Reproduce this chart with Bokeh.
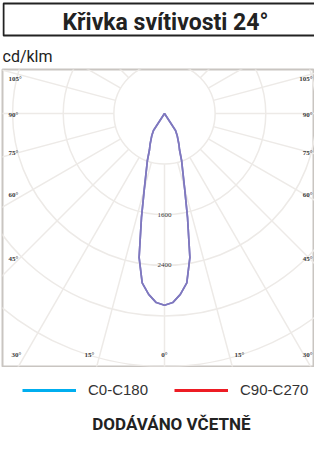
import numpy as np
from bokeh.plotting import figure
from bokeh.layouts import column
from bokeh.models import Range1d, Legend, LegendItem
from bokeh.core.properties import value
from bokeh.embed import file_html
from bokeh.resources import INLINE

# ---------------- data ----------------
title_text = "Křivka svítivosti 24°"
unit_text = "cd/klm"
footer_text = "DODÁVÁNO VČETNĚ"

series_names = ["C0-C180", "C90-C270"]
series_colors = ["#00aeef", "#ed1c24"]

# gamma angle (deg from nadir) and luminous intensity (cd/klm)
angles_deg = [0, 2.5, 5, 7.5, 10, 12.5, 15, 17.5, 20, 22.5, 25, 30, 33, 36]
c0_c180 = [3030, 2990, 2870, 2700, 2310, 1680, 1230, 960, 790, 620, 540, 400, 320, 0]
c90_c270 = [3030, 2990, 2870, 2700, 2310, 1680, 1230, 960, 790, 620, 540, 400, 320, 0]

ring_values = [800, 1600, 2400, 3200, 4000, 4800, 5600]
ring_label_values = [1600, 2400]
ring_labels = ["1600", "2400"]
spoke_angles = list(range(0, 360, 15))

side_labels = ["105°", "90°", "75°", "60°", "45°"]
bottom_labels = ["30°", "15°", "0°", "15°"]
corner_label = "30°"

# ---------------- layout constants ----------------
S = 15.8          # cd/klm per pixel
W = 314
TOP_H = 68
curve_color = "#7f78bf"
grid_color = "#edeae7"
frame_color = "#c9c5c1"
label_color = "#3a3a3a"
title_font = value("Roboto")

# ---------------- top figure: title box + unit ----------------
top = figure(width=W, height=TOP_H, x_range=Range1d(0, W), y_range=Range1d(TOP_H, 0),
             output_backend="svg", toolbar_location=None,
             min_border=0, outline_line_color=None)
top.axis.visible = False
top.grid.visible = False
top.quad(left=[1], right=[W + 20], top=[3], bottom=[35],
         fill_color="white", line_color="#222222", line_width=2)
top.text(x=[164], y=[22], text=[title_text], text_align="center",
         text_baseline="middle", text_font=title_font,
         text_font_style="bold", text_font_size="23px", text_color="#222222")
top.text(x=[0], y=[56], text=[unit_text], text_align="left",
         text_baseline="middle", text_font=title_font,
         text_font_size="16px", text_color="#222222")

# ---------------- polar figure ----------------
left_px = 2
fw, fh = W - left_px, 297
cx_px, cy_px = 162, 44   # centre offset inside frame
polar = figure(width=W, height=fh + 2,
               x_range=Range1d(-cx_px * S, (fw - cx_px) * S),
               y_range=Range1d(-(fh - cy_px) * S, cy_px * S),
               output_backend="svg", toolbar_location=None,
               min_border_left=left_px, min_border_right=0,
               min_border_top=1, min_border_bottom=1,
               outline_line_color=frame_color, outline_line_width=2)
polar.axis.visible = False
polar.grid.visible = False

# rings
polar.circle(x=[0] * len(ring_values), y=[0] * len(ring_values), radius=ring_values,
             fill_color=None, line_color=grid_color, line_width=1.5)
# spokes
sa = np.radians(spoke_angles)
r0, r1 = ring_values[0], 9000
polar.segment(x0=r0 * np.sin(sa), y0=-r0 * np.cos(sa), x1=r1 * np.sin(sa), y1=-r1 * np.cos(sa),
              line_color=grid_color, line_width=1.5)

# curves (mirror each half-plane)
def closed_curve(vals):
    a = np.radians(np.array(angles_deg))
    v = np.array(vals, dtype=float)
    a_full = np.concatenate([-a[::-1], a[1:]])
    v_full = np.concatenate([v[::-1], v[1:]])
    return v_full * np.sin(a_full), -v_full * np.cos(a_full)

for vals in (c90_c270, c0_c180):
    x, y = closed_curve(vals)
    polar.line(x=x, y=y, line_color=curve_color, line_width=1.7)

# ring value labels
polar.text(x=[0, 0], y=[-v for v in ring_label_values], text=ring_labels,
           text_align="center", text_baseline="middle",
           text_font=value("Liberation Serif"), text_font_size="7px",
           text_color=label_color)

# angle labels
lab_kw = dict(text_baseline="middle", text_font=value("Liberation Serif"),
              text_font_size="7px", text_font_style="bold", text_color=label_color)
side_dy = [-35, 1, 39, 81, 145]
polar.text(x=[-156 * S] * 5, y=[-d * S for d in side_dy], text=side_labels,
           text_align="left", **lab_kw)
polar.text(x=[(fw - cx_px - 2) * S] * 5, y=[-d * S for d in side_dy], text=side_labels,
           text_align="right", **lab_kw)
bottom_dx = [-148, -75, 0, 75]
polar.text(x=[d * S for d in bottom_dx], y=[-241 * S] * 4, text=bottom_labels,
           text_align="center", **lab_kw)
polar.text(x=[(fw - cx_px - 2) * S], y=[-241 * S], text=[corner_label],
           text_align="right", **lab_kw)

# ---------------- bottom figure: legend + footer ----------------
bh = 434 - TOP_H - (fh + 2)
bot = figure(width=W, height=bh, x_range=Range1d(0, W), y_range=Range1d(bh, 0),
             output_backend="svg", toolbar_location=None,
             min_border=0, outline_line_color=None)
bot.axis.visible = False
bot.grid.visible = False
items = []
for name, col in zip(series_names, series_colors):
    r = bot.line(x=[np.nan], y=[np.nan], line_color=col, line_width=3)
    items.append(LegendItem(label=name, renderers=[r]))
legend = Legend(items=items, orientation="horizontal", location=(20, bh - 31),
                glyph_width=54, glyph_height=14, label_height=14, label_standoff=12,
                spacing=26, padding=0, margin=0,
                label_text_font="Liberation Sans", label_text_font_size="15px",
                label_text_color="#333333",
                background_fill_alpha=0, border_line_alpha=0)
bot.add_layout(legend)
bot.text(x=[170], y=[56], text=[footer_text], text_align="center",
         text_baseline="middle", text_font=title_font,
         text_font_style="bold", text_font_size="17px", text_color="#222222")

layout = column(top, polar, bot, spacing=0)
open("out.html", "w").write(file_html(layout, INLINE))
